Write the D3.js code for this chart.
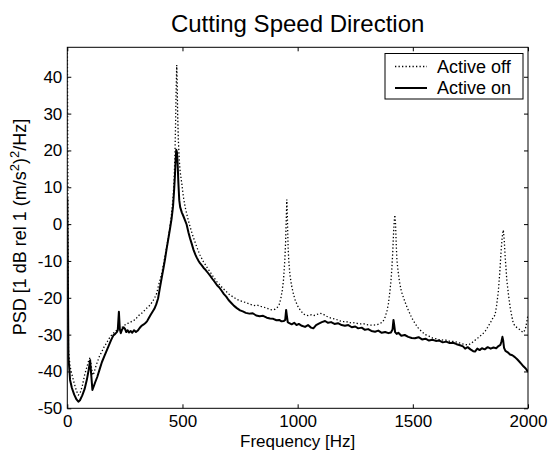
<!DOCTYPE html>
<html>
<head>
<meta charset="utf-8">
<script src="https://cdn.jsdelivr.net/npm/d3@7"></script>
<style>
  body { margin: 0; background: #fff; overflow: hidden; }
  svg { display: block; }
  text { font-family: "Liberation Sans", Arial, Helvetica, sans-serif; fill: #000; }
</style>
</head>
<body>
<div id="container"></div>
<script>
var width = 551;
var height = 451;

// x ticks / y ticks
var freqTicks = [0, 500, 1000, 1500, 2000];
var psdTicks = [-50, -40, -30, -20, -10, 0, 10, 20, 30, 40];

// Active on (solid)
var freqOn = [0, 5, 12, 20, 30, 40, 48, 55, 65, 75,
  85, 93, 99, 104, 109, 115, 122, 130, 140, 150,
  160, 170, 180, 190, 200, 208, 214, 219, 224, 228,
  232, 238, 244, 250, 256, 262, 268, 275, 282, 290,
  298, 306, 314, 322, 330, 338, 346, 354, 362, 370,
  378, 386, 394, 402, 410, 418, 424, 431, 438, 446,
  453, 459, 463, 467, 470, 473, 476, 479, 482, 486,
  490, 497, 505, 512, 518, 526, 533, 540, 548, 556,
  562, 570, 576, 584, 592, 600, 610, 620, 630, 640,
  650, 660, 670, 680, 690, 700, 712, 724, 736, 750,
  762, 775, 790, 805, 820, 835, 850, 866, 880, 894,
  908, 920, 930, 940, 946, 950, 953, 957, 964, 974,
  985, 995, 1005, 1018, 1032, 1045, 1058, 1068, 1080, 1092,
  1105, 1119, 1132, 1145, 1160, 1175, 1191, 1205, 1220, 1235,
  1250, 1263, 1278, 1292, 1306, 1320, 1336, 1350, 1365, 1380,
  1394, 1405, 1412, 1416, 1419, 1423, 1430, 1437, 1450, 1465,
  1480, 1495, 1509, 1525, 1540, 1555, 1570, 1585, 1600, 1615,
  1630, 1645, 1660, 1675, 1690, 1705, 1718, 1727, 1738, 1750,
  1762, 1770, 1780, 1790, 1800, 1812, 1825, 1838, 1850, 1862,
  1872, 1880, 1885, 1889, 1892, 1896, 1902, 1912, 1922, 1932,
  1943, 1953, 1962, 1972, 1980, 1990, 2000];
var psdOn = [7, -36, -42.3, -44.5, -46.3, -47.6, -48.2, -47.8, -46.5, -44.8,
  -42.2, -39.5, -37, -41, -45, -44, -42.8, -41.5, -39.5, -37.5,
  -36, -34.5, -33, -31.5, -30.2, -29.8, -29.4, -28.8, -23.8, -28.5,
  -29.6, -28.6, -28.0, -28.4, -29.3, -28.8, -29.4, -29.0, -29.5, -28.8,
  -29.3, -28.9, -28.2, -27.6, -27.3, -26.9, -26.4, -25.5, -24.6, -23.8,
  -23.0, -21.8, -20.2, -17.3, -14.5, -11.8, -9.6, -6.8, -4.2, -1.2,
  1.6, 4.8, 8.5, 12.8, 17, 20.2, 19.5, 16.5, 11.5, 6.5,
  4.6, 3.2, 2.0, 0.9, -0.1, -2.3, -3.9, -5.3, -7.0, -8.3,
  -9.1, -10.0, -10.6, -11.2, -11.9, -12.4, -13.2, -14.0, -14.9, -15.7,
  -16.6, -17.2, -18.1, -19.0, -19.7, -20.6, -21.4, -22.2, -22.8, -23.4,
  -23.7, -24.1, -24.3, -24.2, -24.8, -25.0, -24.9, -25.4, -25.6, -25.7,
  -26.1, -26.0, -26.4, -26.3, -26.0, -23.3, -24.8, -26.6, -26.9, -27.2,
  -26.8, -27.4, -27.1, -27.6, -27.9, -27.4, -28.1, -28.3, -27.4, -27.0,
  -26.6, -26.3, -26.8, -26.6, -27.1, -26.9, -27.4, -27.6, -27.4, -28.0,
  -27.8, -28.3, -28.1, -28.7, -28.5, -29.0, -29.2, -28.9, -29.5, -29.3,
  -29.6, -29.4, -28.6, -26.0, -27.3, -29.3, -29.8, -29.5, -30.3, -30.1,
  -30.6, -30.9, -31.0, -30.7, -31.3, -31.1, -31.6, -31.4, -31.7, -31.6,
  -32.1, -31.9, -32.3, -32.2, -32.6, -32.9, -33.2, -33.8, -33.4, -34.0,
  -34.5, -34.6, -33.8, -34.2, -33.7, -34.0, -33.4, -33.8, -33.5, -33.7,
  -33.1, -32.8, -31.8, -30.6, -31.5, -33.6, -34.4, -34.8, -35.4, -35.6,
  -36.1, -36.7, -37.3, -38.0, -38.6, -39.2, -40.1];

// Active off (dotted)
var freqOff = [0, 5, 12, 20, 30, 40, 48, 55, 65, 75,
  85, 93, 99, 104, 110, 116, 122, 130, 140, 150,
  160, 170, 180, 190, 200, 210, 220, 230, 240, 250,
  258, 266, 275, 285, 294, 303, 312, 321, 330, 340,
  350, 359, 368, 378, 388, 396, 404, 410, 418, 424,
  431, 438, 446, 453, 459, 463, 467, 470, 472, 475,
  477, 479, 482, 486, 490, 497, 504, 511, 518, 525,
  533, 543, 554, 565, 576, 590, 605, 620, 634, 649,
  662, 675, 690, 705, 721, 735, 750, 765, 779, 795,
  810, 825, 840, 851, 865, 880, 892, 902, 912, 920,
  927, 933, 938, 942, 945, 948, 951, 953, 955, 957,
  959, 962, 967, 974, 981, 990, 1003, 1015, 1025, 1035,
  1048, 1060, 1072, 1085, 1098, 1110, 1122, 1135, 1150, 1165,
  1180, 1195, 1210, 1225, 1240, 1255, 1270, 1285, 1300, 1315,
  1330, 1345, 1358, 1370, 1380, 1388, 1394, 1400, 1405, 1409,
  1413, 1416, 1419, 1422, 1425, 1428, 1431, 1436, 1442, 1450,
  1459, 1466, 1475, 1485, 1495, 1508, 1522, 1539, 1555, 1570,
  1585, 1600, 1620, 1640, 1660, 1683, 1700, 1720, 1741, 1755,
  1770, 1785, 1800, 1813, 1825, 1838, 1850, 1857, 1864, 1871,
  1877, 1883, 1888, 1893, 1897, 1901, 1905, 1908, 1915, 1922,
  1929, 1936, 1945, 1958, 1970, 1980, 1988, 1994, 2000];
var psdOff = [55, -34, -38.6, -40.8, -43.2, -45.3, -46.4, -46.0, -44.0, -41.0,
  -38.8, -37.0, -36.2, -38.5, -41.0, -40.4, -39.0, -37.5, -35.8, -34.6,
  -33.3, -32.3, -31.2, -30.3, -29.6, -29.0, -28.6, -28.4, -27.9, -27.4,
  -27.0, -26.9, -26.6, -26.2, -26.0, -25.3, -24.7, -24.3, -23.8, -23.1,
  -22.5, -22.0, -21.2, -20.2, -18.8, -16.7, -14.8, -13.4, -10.8, -8.7,
  -6.4, -3.8, -0.5, 3.0, 7.0, 11, 18, 27, 35, 43.2,
  38, 30, 23, 17.5, 14.2, 11.0, 7.4, 4.8, 2.9, 1.1,
  -0.7, -2.8, -4.8, -6.7, -8.4, -10.1, -11.6, -13.0, -14.3, -15.6,
  -16.5, -17.4, -18.3, -19.2, -19.8, -20.4, -20.8, -21.1, -21.4, -21.8,
  -22.1, -22.0, -22.3, -22.5, -22.8, -23.2, -23.3, -23.1, -22.6, -21.8,
  -20.2, -18.0, -15.5, -12.0, -9.0, -4.5, 2, 6.7, 3, -2.5,
  -7, -10.5, -14.0, -16.8, -18.8, -20.8, -22.6, -23.6, -24.4, -24.7,
  -24.9, -24.6, -24.8, -24.5, -24.2, -24.4, -24.9, -25.3, -25.6, -25.8,
  -26.2, -26.5, -26.4, -26.8, -26.7, -26.9, -27.1, -27.0, -27.3, -27.4,
  -27.4, -27.3, -27.0, -26.5, -25.2, -23.5, -21.6, -18.5, -15.5, -12.0,
  -7.5, -3.0, 0.5, 2.5, 0, -5.5, -9.8, -12.8, -15.6, -18.2,
  -19.9, -21.1, -22.6, -24.0, -25.4, -26.8, -28.1, -29.2, -30.0, -30.4,
  -30.9, -31.1, -31.5, -31.4, -31.8, -31.9, -32.2, -32.6, -32.8, -32.3,
  -31.5, -30.8, -30.0, -29.2, -28.0, -26.6, -25.2, -24.7, -22.0, -18.4,
  -13.5, -7.5, -3.5, -1.6, -4.5, -9.0, -12.5, -15.2, -19.0, -22.4,
  -24.8, -26.9, -27.8, -28.3, -29.0, -29.4, -28.6, -26.8, -24.7];

var seriesNames = ["Active off", "Active on"];

var margin = { left: 67.3, right: 528, top: 47.3, bottom: 408.3 };

var svg = d3
  .select("div#container")
  .append("svg")
  .attr("width", width)
  .attr("height", height)
  .style("background-color", "#fff");

var x = d3.scaleLinear().domain([0, 2000]).range([margin.left, margin.right]);
var y = d3.scaleLinear().domain([-50, 48]).range([margin.bottom, margin.top]);

svg.append("clipPath")
  .attr("id", "plot-clip")
  .append("rect")
  .attr("x", margin.left)
  .attr("y", margin.top)
  .attr("width", margin.right - margin.left)
  .attr("height", margin.bottom - margin.top);

var line = d3.line()
  .x((d) => x(d[0]))
  .y((d) => y(d[1]));

var offData = freqOff.map((f, i) => [f, psdOff[i]]);
var onData = freqOn.map((f, i) => [f, psdOn[i]]);

var plot = svg.append("g").attr("clip-path", "url(#plot-clip)");

plot.append("path")
  .datum(offData)
  .attr("d", line)
  .attr("fill", "none")
  .attr("stroke", "#000")
  .attr("stroke-width", 1.3)
  .attr("stroke-dasharray", "1.3,2.2");

plot.append("path")
  .datum(onData)
  .attr("d", line)
  .attr("fill", "none")
  .attr("stroke", "#000")
  .attr("stroke-width", 2)
  .attr("stroke-linejoin", "round");

// axes, ticks pointing inward (matlab style)
var fontSize = "17px";
var plain = (d) => String(d); // no thousands comma, plain hyphen minus

var gx = svg.append("g")
  .attr("transform", `translate(0,${margin.bottom})`)
  .call(d3.axisBottom(x).tickValues(freqTicks).tickFormat(plain).tickSizeInner(-4).tickSizeOuter(0).tickPadding(7));
var gy = svg.append("g")
  .attr("transform", `translate(${margin.left},0)`)
  .call(d3.axisLeft(y).tickValues(psdTicks).tickFormat(plain).tickSizeInner(-4).tickSizeOuter(0).tickPadding(5));
svg.append("g")
  .attr("transform", `translate(0,${margin.top})`)
  .call(d3.axisTop(x).tickValues(freqTicks).tickSizeInner(-4).tickSizeOuter(0).tickFormat(""));
svg.append("g")
  .attr("transform", `translate(${margin.right},0)`)
  .call(d3.axisRight(y).tickValues(psdTicks).tickSizeInner(-4).tickSizeOuter(0).tickFormat(""));

svg.selectAll(".domain").remove();
svg.selectAll(".tick line").attr("stroke", "#000");
[gx, gy].forEach((g) => g.selectAll("text")
  .style("font-family", "'Liberation Sans', Arial, sans-serif")
  .style("font-size", fontSize)
  .attr("fill", "#000"));

svg.append("rect")
  .attr("x", margin.left)
  .attr("y", margin.top)
  .attr("width", margin.right - margin.left)
  .attr("height", margin.bottom - margin.top)
  .attr("fill", "none")
  .attr("stroke", "#000")
  .attr("stroke-width", 1);

// title + labels
svg.append("text")
  .attr("x", (margin.left + margin.right) / 2)
  .attr("y", 32)
  .attr("text-anchor", "middle")
  .style("font-size", "24px")
  .text("Cutting Speed Direction");

svg.append("text")
  .attr("x", (margin.left + margin.right) / 2)
  .attr("y", 446.5)
  .attr("text-anchor", "middle")
  .style("font-size", fontSize)
  .text("Frequency [Hz]");

var ylab = svg.append("text")
  .attr("transform", "translate(26,227) rotate(-90)")
  .attr("text-anchor", "middle")
  .style("font-size", "18px");
ylab.append("tspan").text("PSD [1 dB rel 1 (m/s");
ylab.append("tspan").attr("dy", -7).style("font-size", "13px").text("2");
ylab.append("tspan").attr("dy", 7).text(")");
ylab.append("tspan").attr("dy", -7).style("font-size", "13px").text("2");
ylab.append("tspan").attr("dy", 7).text("/Hz]");

// legend
var legend = svg.append("g");
legend.append("rect")
  .attr("x", 385)
  .attr("y", 53.5)
  .attr("width", 138)
  .attr("height", 45.5)
  .attr("fill", "#fff")
  .attr("stroke", "#000")
  .attr("stroke-width", 1);

var legendRows = [
  { name: seriesNames[0], dash: "1.3,2.2", width: 1.3, y: 66.5 },
  { name: seriesNames[1], dash: null, width: 2, y: 88 }
];
legendRows.forEach((r) => {
  legend.append("line")
    .attr("x1", 395).attr("x2", 427)
    .attr("y1", r.y).attr("y2", r.y)
    .attr("stroke", "#000")
    .attr("stroke-width", r.width)
    .attr("stroke-dasharray", r.dash);
  legend.append("text")
    .attr("x", 437)
    .attr("y", r.y + 6)
    .style("font-size", "18px")
    .text(r.name);
});
</script>
</body>
</html>
